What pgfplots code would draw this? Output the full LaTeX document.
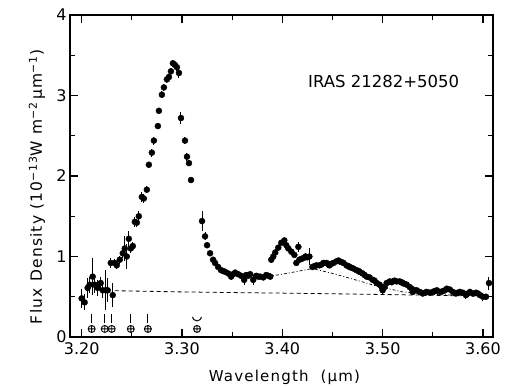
\documentclass[border=0pt]{standalone}
\usepackage{fontspec}
\setmainfont{DejaVu Sans}
\newfontfamily\spaced{DejaVu Sans}[LetterSpace=8]
\usepackage{pgfplots}
\usepackage{pgfplotstable}
\pgfplotsset{compat=1.18}
\pgfplotstableread{
x y e
3.200 0.48 0.12
3.203 0.43 0.10
3.206 0.61 0.12
3.208 0.65 0.10
3.211 0.75 0.23
3.213 0.65 0.10
3.216 0.61 0.10
3.219 0.67 0.08
3.221 0.58 0.10
3.224 0.58 0.25
3.226 0.58 0.15
3.229 0.92 0.06
3.231 0.52 0.15
3.233 0.92 0.05
3.235 0.89 0.05
3.238 0.96 0.05
3.241 1.04 0.06
3.243 1.10 0.15
3.245 1.00 0.15
3.247 1.22 0.10
3.249 1.10 0.06
3.251 1.13 0.05
3.253 1.43 0.06
3.255 1.42 0.05
3.257 1.50 0.06
3.260 1.74 0.06
3.262 1.72 0.06
3.265 1.83 0.04
3.267 2.14 0.04
3.270 2.29 0.05
3.272 2.44 0.05
3.276 2.62 0.04
3.277 2.81 0.04
3.280 3.01 0.04
3.282 3.10 0.04
3.285 3.20 0.04
3.287 3.23 0.04
3.289 3.30 0.04
3.291 3.40 0.04
3.293 3.38 0.04
3.295 3.35 0.04
3.297 3.28 0.06
3.299 2.72 0.08
3.303 2.44 0.04
3.305 2.24 0.05
3.307 2.16 0.04
3.309 1.95 0.03
3.320 1.44 0.12
3.323 1.25 0.05
3.325 1.14 0.04
3.328 1.04 0.03
3.331 0.96 0.03
3.333 0.92 0.03
3.336 0.87 0.03
3.339 0.83 0.03
3.341 0.82 0.03
3.343 0.81 0.03
3.346 0.79 0.03
3.349 0.75 0.04
3.351 0.78 0.03
3.353 0.80 0.03
3.356 0.78 0.03
3.359 0.76 0.03
3.362 0.71 0.06
3.364 0.77 0.03
3.366 0.76 0.03
3.368 0.78 0.03
3.371 0.71 0.06
3.374 0.76 0.03
3.376 0.75 0.03
3.378 0.75 0.03
3.381 0.74 0.03
3.384 0.77 0.03
3.386 0.76 0.03
3.388 0.75 0.04
3.389 0.96 0.04
3.391 1.00 0.04
3.393 1.05 0.04
3.396 1.11 0.03
3.399 1.17 0.03
3.402 1.20 0.03
3.404 1.14 0.03
3.406 1.10 0.03
3.409 1.06 0.03
3.412 1.02 0.03
3.414 0.92 0.03
3.416 1.12 0.06
3.417 0.96 0.03
3.419 0.97 0.03
3.421 0.98 0.04
3.423 1.00 0.04
3.425 0.99 0.03
3.427 1.00 0.10
3.430 0.87 0.03
3.432 0.88 0.03
3.434 0.89 0.03
3.437 0.89 0.03
3.439 0.90 0.03
3.441 0.92 0.03
3.444 0.92 0.03
3.446 0.90 0.03
3.447 0.89 0.03
3.449 0.91 0.03
3.451 0.92 0.03
3.454 0.94 0.03
3.456 0.95 0.03
3.457 0.94 0.03
3.459 0.93 0.03
3.461 0.92 0.03
3.464 0.89 0.03
3.466 0.88 0.03
3.467 0.87 0.03
3.469 0.86 0.03
3.471 0.85 0.03
3.474 0.83 0.03
3.476 0.82 0.04
3.477 0.81 0.03
3.480 0.79 0.03
3.482 0.77 0.03
3.484 0.75 0.03
3.487 0.74 0.03
3.490 0.71 0.03
3.492 0.70 0.03
3.494 0.67 0.03
3.497 0.65 0.03
3.499 0.62 0.03
3.500 0.58 0.04
3.502 0.62 0.03
3.504 0.67 0.03
3.507 0.69 0.03
3.509 0.68 0.03
3.510 0.69 0.03
3.512 0.70 0.03
3.514 0.69 0.03
3.517 0.69 0.03
3.519 0.68 0.03
3.520 0.67 0.03
3.522 0.66 0.03
3.524 0.65 0.03
3.527 0.62 0.03
3.529 0.60 0.03
3.530 0.56 0.04
3.532 0.58 0.03
3.534 0.58 0.03
3.537 0.56 0.03
3.540 0.54 0.03
3.542 0.55 0.03
3.544 0.56 0.03
3.547 0.55 0.03
3.550 0.56 0.03
3.552 0.57 0.03
3.554 0.58 0.03
3.557 0.56 0.03
3.560 0.57 0.03
3.562 0.58 0.03
3.564 0.60 0.03
3.567 0.59 0.03
3.570 0.56 0.03
3.573 0.54 0.03
3.575 0.55 0.03
3.577 0.56 0.03
3.580 0.55 0.03
3.583 0.52 0.05
3.585 0.54 0.03
3.587 0.56 0.03
3.590 0.54 0.03
3.593 0.55 0.03
3.595 0.54 0.03
3.597 0.52 0.03
3.600 0.50 0.05
3.603 0.50 0.04
3.606 0.67 0.08
}\spectrum
\pgfplotstableread{
x y
3.210 0.10
3.223 0.10
3.230 0.10
3.249 0.10
3.266 0.10
3.315 0.10
}\telluric
\begin{document}
\begin{tikzpicture}
\useasboundingbox (-70pt,-51pt) rectangle (437pt,337pt);
\begin{axis}[
  scale only axis, width=423pt, height=322pt,
  at={(0,0)}, anchor=south west,
  xmin=3.1884, xmax=3.61, ymin=0, ymax=4,
  xtick={3.2,3.3,3.4,3.5,3.6}, minor xtick={3.25,3.35,3.45,3.55},
  ytick={0,1,2,3,4}, minor ytick={0.5,1.5,2.5,3.5},
  tick align=inside, major tick length=8pt, minor tick length=5pt,
  axis line style={line width=1.4pt},
  every tick/.style={line width=1.2pt, black},
  /pgf/number format/assume math mode=true,
  x tick label style={/pgf/number format/.cd, fixed, fixed zerofill, precision=2},
  tick label style={font=\fontsize{16}{16}\selectfont},
  xticklabel shift=2pt, yticklabel shift=0pt,
  xlabel={\spaced Wavelength\ \ (µm)},
  ylabel={\spaced Flux Density (10\textsuperscript{−13}W m\textsuperscript{−2}\,µm\textsuperscript{−1})},
  xlabel style={at={(axis description cs:0.507,-0.1388)}, anchor=base, font=\fontsize{15}{15}\selectfont},
  ylabel style={at={(axis description cs:-0.0662,0.466)}, anchor=base, font=\fontsize{15.5}{15.5}\selectfont},
  clip=false,
]
\addplot[only marks, mark=*, mark size=3pt, black,
  error bars/.cd, y dir=both, y explicit, error mark=none,
  error bar style={line width=1pt, black}]
  table[x=x, y=y, y error=e] {\spectrum};
% lower continuum
\addplot[black, line width=0.8pt, dash pattern=on 4pt off 3pt] coordinates {
  (3.233,0.575) (3.30,0.56) (3.35,0.552) (3.40,0.545) (3.45,0.537) (3.50,0.528) (3.55,0.518) (3.606,0.505)};
% plateau continuum
\addplot[black, line width=0.7pt, dash pattern=on 3pt off 2pt on 1pt off 2pt] coordinates {
  (3.37,0.72) (3.40,0.78) (3.43,0.85) (3.45,0.79) (3.47,0.72) (3.495,0.63) (3.52,0.56) (3.55,0.53) (3.58,0.515)};
% telluric markers
\addplot[only marks, mark=oplus, mark size=3.5pt, line width=0.9pt, black] table[x=x,y=y] {\telluric};
\addplot[black, line width=1pt] coordinates {(3.210,0.17) (3.210,0.28)};
\addplot[black, line width=1pt] coordinates {(3.223,0.17) (3.223,0.28)};
\addplot[black, line width=1pt] coordinates {(3.230,0.17) (3.230,0.28)};
\addplot[black, line width=1pt] coordinates {(3.249,0.17) (3.249,0.28)};
\addplot[black, line width=1pt] coordinates {(3.266,0.17) (3.266,0.28)};
\addplot[black, line width=1pt, smooth] coordinates {(3.3105,0.25) (3.312,0.215) (3.315,0.20) (3.318,0.215) (3.3195,0.25)};
\node[font=\fontsize{16.5}{16.5}\selectfont] at (axis cs:3.501,3.17) {IRAS 21282+5050};
\end{axis}
\end{tikzpicture}
\end{document}
